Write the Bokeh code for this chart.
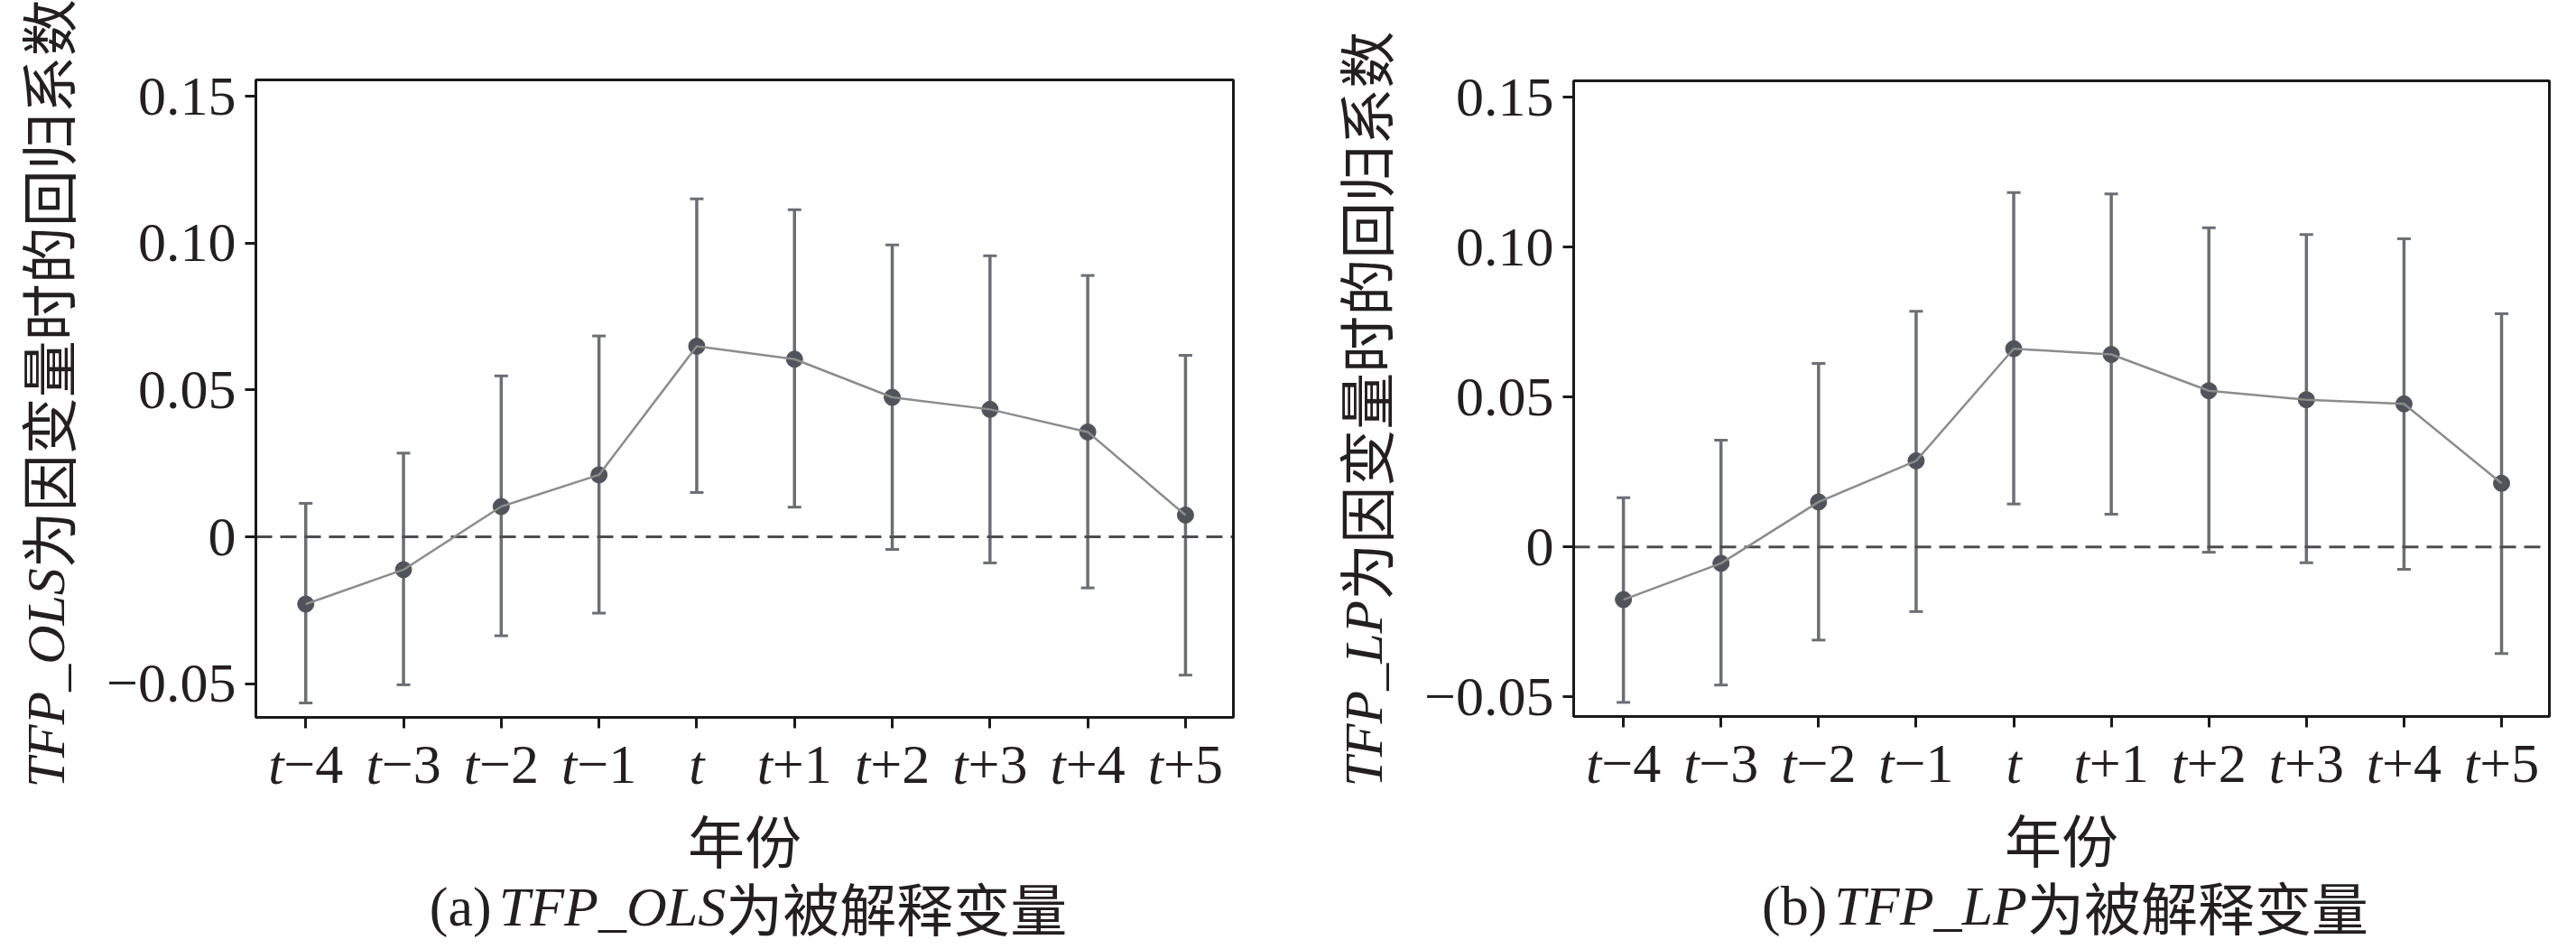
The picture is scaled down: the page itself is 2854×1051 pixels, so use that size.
import math
from bokeh.plotting import figure
from bokeh.models import (ColumnDataSource, Range1d, FixedTicker, Whisker, TeeHead,
                          Label, LinearAxis, BoxAnnotation)
from bokeh.layouts import row
from bokeh.embed import file_html
from bokeh.resources import INLINE
from bokeh.core.properties import value

# ---------------- data ----------------
period_prefix = "t"
period_suffix = ["−4", "−3", "−2", "−1", "", "+1", "+2", "+3", "+4", "+5"]
y_ticks = [-0.05, 0.0, 0.05, 0.10, 0.15]
y_tick_labels = ["−0.05", "0", "0.05", "0.10", "0.15"]
zero_level = [0.0]

ols_coef = [-0.0229, -0.0112, 0.0103, 0.0211, 0.0649, 0.0605, 0.0475, 0.0434, 0.0357, 0.0074]
ols_upper = [0.0114, 0.0285, 0.0548, 0.0684, 0.1151, 0.1114, 0.0994, 0.0957, 0.0890, 0.0618]
ols_lower = [-0.0566, -0.0504, -0.0337, -0.0260, 0.0151, 0.0101, -0.0043, -0.0089, -0.0174, -0.0471]

lp_coef = [-0.0176, -0.0055, 0.0150, 0.0287, 0.0661, 0.0642, 0.0521, 0.0491, 0.0477, 0.0212]
lp_upper = [0.0164, 0.0356, 0.0612, 0.0786, 0.1182, 0.1178, 0.1065, 0.1042, 0.1028, 0.0778]
lp_lower = [-0.0519, -0.0461, -0.0311, -0.0216, 0.0143, 0.0109, -0.0018, -0.0053, -0.0075, -0.0356]

x_label = "年份"
y_label_tail = "为因变量时的回归系数"
caption_tail = "为被解释变量"

# ---------------- styling helpers ----------------
SERIF = "Liberation Serif"
CJK = "Noto Sans CJK SC"
INK = "#231f20"
FRAME = "#1a1a1a"
BAR = "#6c6e74"
LINE = "#8c8c8c"
DOT = "#50535a"
LAT = 62
CJKS = 63
FIG_H = 1050

UPRIGHT_W = {"(": 0.333, ")": 0.333, "a": 0.444, "b": 0.5, "−": 0.564, "+": 0.564,
             "0": 0.5, "1": 0.5, "2": 0.5, "3": 0.5, "4": 0.5, "5": 0.5}
ITALIC_W = {"T": 0.556, "F": 0.611, "P": 0.611, "_": 0.5, "O": 0.722, "L": 0.556,
            "S": 0.5, "t": 0.278}


def tw(s, size, italic=False):
    table = ITALIC_W if italic else UPRIGHT_W
    return sum(table.get(c, 0.5) for c in s) * size


def make_panel(coef, upper, lower, dep, letter, fig_w, box_px, y_box):
    bl, bt, br, bb = box_px          # plot box inside the canvas, in pixels
    x0, x1 = -0.51, 9.49             # visible x extent of the box
    y0, y1 = y_box                   # visible y extent of the box
    kx = (br - bl) / (x1 - x0)
    ky = (bb - bt) / (y1 - y0)
    xr = Range1d(x0 - bl / kx, x1 + (fig_w - br) / kx)
    yr = Range1d(y0 - (FIG_H - bb) / ky, y1 + bt / ky)

    p = figure(width=fig_w, height=FIG_H, x_range=xr, y_range=yr,
               output_backend="svg", toolbar_location=None,
               x_axis_location=None, y_axis_location=None, min_border=0)
    for g in p.grid:
        g.visible = False
    p.outline_line_color = None
    p.background_fill_color = "white"
    p.border_fill_color = "white"

    xs = list(range(len(coef)))

    def style_axis(ax):
        ax.axis_line_color = None
        ax.major_tick_line_color = FRAME
        ax.major_tick_line_width = 3
        ax.major_tick_out = 12
        ax.major_tick_in = 0
        ax.minor_tick_line_color = None
        ax.major_label_text_font = SERIF
        ax.major_label_text_font_size = f"{LAT}px"
        ax.major_label_text_color = INK

    yax = LinearAxis(fixed_location=x0, ticker=FixedTicker(ticks=y_ticks),
                     major_label_overrides=dict(zip(y_ticks, y_tick_labels)),
                     major_label_standoff=10)
    style_axis(yax)
    p.add_layout(yax, "left")
    xax = LinearAxis(fixed_location=y0, ticker=FixedTicker(ticks=xs),
                     major_label_overrides={i: "" for i in xs})
    style_axis(xax)
    p.add_layout(xax, "below")

    # plot box
    p.add_layout(BoxAnnotation(left=x0, right=x1, bottom=y0, top=y1,
                               fill_color=None, fill_alpha=0,
                               line_color=FRAME, line_alpha=1.0, line_width=3))

    src = ColumnDataSource(dict(x=xs, coef=coef, upper=upper, lower=lower))
    p.segment(x0=x0, x1=x1, y0=zero_level, y1=zero_level, line_color="#4d4d4d",
              line_width=3, line_dash="18 9")
    p.scatter("x", "coef", source=src, size=18, fill_color=DOT, line_color=DOT)
    p.line("x", "coef", source=src, line_color=LINE, line_width=2.5)
    p.add_layout(Whisker(source=src, base="x", upper="upper", lower="lower",
                         line_color=BAR, line_width=3.5,
                         upper_head=TeeHead(size=15, line_color=BAR, line_width=3),
                         lower_head=TeeHead(size=15, line_color=BAR, line_width=3)))

    # x tick labels: italic t + upright offset
    wt = tw(period_prefix, LAT, True)
    offs_t, offs_s = [], []
    for s in period_suffix:
        total = wt + tw(s, LAT)
        offs_t.append(-total / 2)
        offs_s.append(-total / 2 + wt)
    base_y = y0 - 52 / ky
    lab_src = ColumnDataSource(dict(x=xs, ly=[base_y] * len(xs),
                                    t=[period_prefix] * len(xs), s=period_suffix,
                                    ot=offs_t, os=offs_s))
    p.text(x="x", y="ly", text="t", x_offset="ot", source=lab_src,
           text_align="left", text_baseline="middle",
           text_font=value(SERIF), text_font_style="italic",
           text_font_size=value(f"{LAT}px"), text_color=INK)
    p.text(x="x", y="ly", text="s", x_offset="os", source=lab_src,
           text_align="left", text_baseline="middle",
           text_font=value(SERIF), text_font_style="normal",
           text_font_size=value(f"{LAT}px"), text_color=INK)

    D = FIG_H - bb        # distance of box bottom above canvas bottom
    cx = (bl + br) / 2

    # x axis label
    p.add_layout(Label(x=cx, y=D - 134, x_units="screen", y_units="screen",
                       text=x_label, text_align="center", text_baseline="middle",
                       text_font=CJK, text_font_size=f"{CJKS}px", text_color=INK))

    # y axis label (rotated, mixed style)
    ylat = 60
    ystart = D - 78
    yx = bl - 233
    p.add_layout(Label(x=yx, y=ystart, x_units="screen", y_units="screen",
                       text=dep, angle=math.pi / 2, text_align="left",
                       text_baseline="middle", text_font=SERIF,
                       text_font_style="italic", text_font_size=f"{ylat}px",
                       text_color=INK))
    p.add_layout(Label(x=yx, y=ystart + tw(dep, ylat, True), x_units="screen",
                       y_units="screen", text=y_label_tail, angle=math.pi / 2,
                       text_align="left", text_baseline="middle", text_font=CJK,
                       text_font_size=f"{CJKS}px", text_color=INK))

    # caption
    lead = f"({letter})"
    gap = 8
    w1 = tw(lead, LAT)
    w2 = tw(dep, LAT, True)
    w3 = len(caption_tail) * CJKS
    total = w1 + gap + w2 + w3
    xstart = cx + 4 - total / 2
    cy = D - 209
    p.add_layout(Label(x=xstart, y=cy, x_units="screen", y_units="screen", text=lead,
                       text_align="left", text_baseline="middle", text_font=SERIF,
                       text_font_size=f"{LAT}px", text_color=INK))
    p.add_layout(Label(x=xstart + w1 + gap, y=cy, x_units="screen", y_units="screen",
                       text=dep, text_align="left", text_baseline="middle",
                       text_font=SERIF, text_font_style="italic",
                       text_font_size=f"{LAT}px", text_color=INK))
    p.add_layout(Label(x=xstart + w1 + gap + w2, y=cy, x_units="screen",
                       y_units="screen", text=caption_tail, text_align="left",
                       text_baseline="middle", text_font=CJK,
                       text_font_size=f"{CJKS}px", text_color=INK))
    return p


p1 = make_panel(ols_coef, ols_upper, ols_lower, "TFP_OLS", "a",
                1420, (283, 88, 1366, 794), (-0.0615, 0.1556))
p2 = make_panel(lp_coef, lp_upper, lp_lower, "TFP_LP", "b",
                1430, (323, 89, 1404, 793), (-0.0566, 0.1555))

layout = row(p1, p2)
open("out.html", "w").write(file_html(layout, INLINE))
